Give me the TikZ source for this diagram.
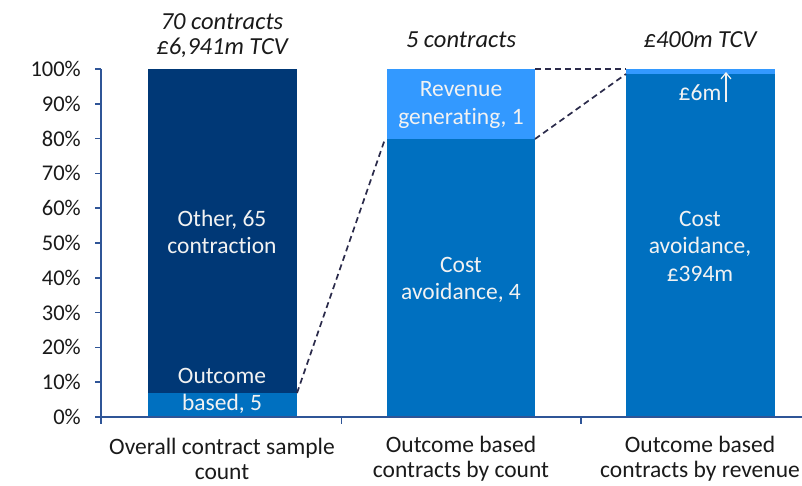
\documentclass[tikz,border=0pt]{standalone}
\usepackage{fontspec}
\setmainfont{Carlito}[Ligatures={NoCommon,NoDiscretionary,NoContextual}]
\usetikzlibrary{arrows.meta}
\definecolor{navy}{HTML}{003876}
\definecolor{midblue}{HTML}{0070C0}
\definecolor{lightblue}{HTML}{3399FF}
\definecolor{axisblue}{HTML}{2F5597}
\definecolor{dashcol}{HTML}{2B2B4B}
\definecolor{txt}{HTML}{1A1A1A}
\definecolor{wtxt}{HTML}{F2F2F2}
\begin{document}
\begin{tikzpicture}[x=1bp,y=-1bp,
  every node/.style={font=\fontsize{23.5bp}{27bp}\selectfont, inner sep=0pt, text=txt},
  axisline/.style={draw=axisblue, line width=1.6bp},
  ticklab/.style={anchor=east, font=\fontsize{22.5bp}{26bp}\selectfont},
  barlab/.style={align=center, text=wtxt, font=\fontsize{23.5bp}{27.5bp}\selectfont},
  catlab/.style={align=center, font=\fontsize{23.5bp}{25bp}\selectfont},
  titlelab/.style={font=\fontsize{24.5bp}{26bp}\selectfont\itshape},
  zoomline/.style={draw=dashcol, line width=1.7bp, dash pattern=on 6bp off 4bp}]
\useasboundingbox (0,0) rectangle (802,486);

% bar 1
\fill[navy] (148,69) rectangle (297,393);
\fill[midblue] (148,393) rectangle (297,417);
% bar 2
\fill[lightblue] (387,69) rectangle (535,139);
\fill[midblue] (387,139) rectangle (535,417);
% bar 3
\fill[lightblue] (626,69) rectangle (775,74);
\fill[midblue] (626,74) rectangle (775,417);

% corner coordinates
\coordinate (b1top) at (297,393);
\coordinate (b2low) at (385,139);
\coordinate (b2tr) at (535,69);
\coordinate (b3tl) at (626,69);
\coordinate (b2mr) at (535,139);
\coordinate (b3ml) at (626,74);

% zoom connectors
\draw[zoomline] (b1top) -- (b2low);
\draw[zoomline] (b2tr) -- (b3tl);
\draw[zoomline] (b2mr) -- (b3ml);

% axes
\draw[axisline] (101,69) -- (101,424);
\draw[axisline] (95,417) -- (802,417);
\foreach \p in {0,10,...,100} {
  \draw[axisline] (95,{417-3.48*\p}) -- (101,{417-3.48*\p});
  \node[ticklab] (t\p) at (81,{417-3.48*\p}) {\p\%};
}
\draw[axisline] (341.5,417) -- (341.5,424);
\draw[axisline] (581,417) -- (581,424);

% titles
\node[titlelab] (ti1a) at (222,22) {70 contracts};
\node[titlelab] (ti1b) at (222,48) {£6,941m TCV};
\node[titlelab] (ti2) at (461,40) {5 contracts};
\node[titlelab] (ti3) at (700,40) {£400m TCV};

% bar labels
\node[barlab] (l1a) at (222,232) {Other, 65\\contraction};
\node[barlab] (l1b) at (222,391) {Outcome\\based, 5};
\node[barlab] (l2a) at (461,105) {Revenue\\generating, 1};
\node[barlab] (l2b) at (461,280) {Cost\\avoidance, 4};
\node[barlab] (l3b) at (700,246) {Cost\\avoidance,\\£394m};
\node[barlab] (l3a) at (700,93) {£6m};
\coordinate (arrS) at (726,102);
\coordinate (arrE) at (726,72);
\draw[wtxt, line width=1.2bp, -{Straight Barb[length=6bp,width=10bp]}] (arrS) -- (arrE);

% category labels
\node[catlab] (c1) at (222,459) {Overall contract sample\\count};
\node[catlab] (c2) at (461,459) {Outcome based\\contracts by count};
\node[catlab] (c3) at (700,459) {Outcome based\\contracts by revenue};
\end{tikzpicture}
\end{document}
